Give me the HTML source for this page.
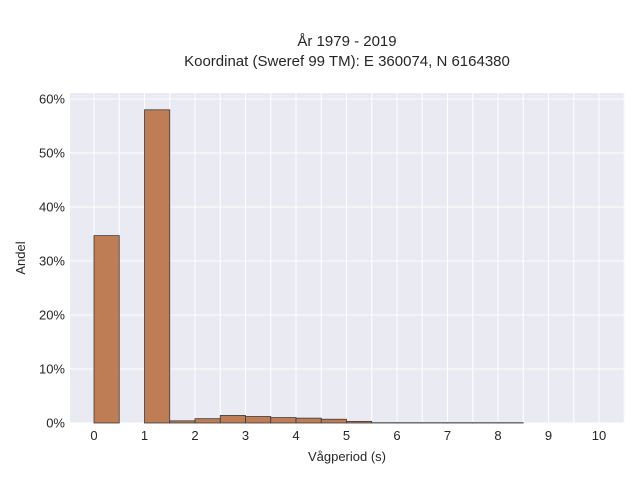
<!DOCTYPE html>
<html><head><meta charset="utf-8"><style>
body{margin:0;background:#fff;font-family:"Liberation Sans",sans-serif;}
</style></head><body>
<svg width="640" height="480" xmlns="http://www.w3.org/2000/svg" font-family="Liberation Sans, sans-serif">
<text x="347" y="46" text-anchor="middle" font-size="15" fill="#262626">År 1979 - 2019</text>
<text x="347" y="66" text-anchor="middle" font-size="15" fill="#262626">Koordinat (Sweref 99 TM): E 360074, N 6164380</text>
<rect x="70" y="93" width="555" height="330" fill="#eaeaf2"/>
<g id="grid"></g>
<g id="bars"></g>
<g id="xt"></g>
<g id="yt"></g>
<text x="347" y="461" text-anchor="middle" font-size="13" fill="#262626">Vågperiod (s)</text>
<text x="25" y="258" text-anchor="middle" font-size="13" fill="#262626" transform="rotate(-90 25 258)">Andel</text>
</svg>
<script>
const binStarts=[0,1,1.5,2,2.5,3,3.5,4,4.5,5,5.5,6,6.5,7,7.5,8];
const shares=[34.7,58.0,0.4,0.8,1.4,1.2,1.0,0.9,0.7,0.3,0.05,0.05,0.05,0.05,0.05,0.05];
const binWidth=0.5;
const xTicks=[0,1,2,3,4,5,6,7,8,9,10];
const yTicks=[0,10,20,30,40,50,60];
const NS="http://www.w3.org/2000/svg";
const X=v=>94+v*50.5, Y=v=>423-v*5.4;
const g=document.getElementById('grid'),b=document.getElementById('bars'),xt=document.getElementById('xt'),yt=document.getElementById('yt');
function mk(tag,a,p){const e=document.createElementNS(NS,tag);for(const k in a)e.setAttribute(k,a[k]);p.appendChild(e);return e;}
for(let v=0;v<=10.5;v+=0.5){const l=mk('line',{x1:X(v),x2:X(v),y1:93,y2:423,stroke:'#fff','stroke-width':1},g);

}
yTicks.forEach(v=>{const l=mk('line',{x1:70,x2:625,y1:Y(v),y2:Y(v),stroke:'#fff','stroke-width':1},g);


const t=mk('text',{x:65,y:Y(v)+4.5,'text-anchor':'end','font-size':13,fill:'#262626'},yt);t.textContent=v+'%';

});
xTicks.forEach(v=>{const t=mk('text',{x:X(v),y:440,'text-anchor':'middle','font-size':13,fill:'#262626'},xt);t.textContent=v;

});
binStarts.forEach((s,i)=>{const r=mk('rect',{x:X(s),y:Y(shares[i]),width:X(s+binWidth)-X(s),height:423-Y(shares[i]),fill:'#bf7d56',stroke:'#3a3a3a','stroke-width':0.8},b);

});
</script>
</body></html>
